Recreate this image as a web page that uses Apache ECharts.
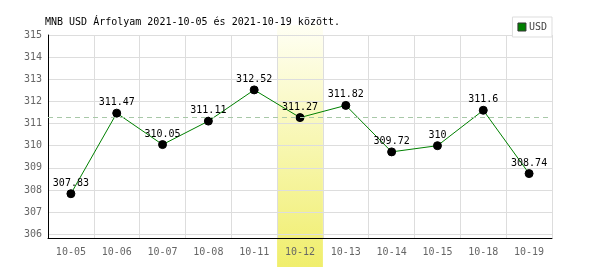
<!DOCTYPE html>
<html><head><meta charset="utf-8">
<script src="https://cdn.jsdelivr.net/npm/echarts@6/dist/echarts.min.js"></script>
<style>html,body{margin:0;padding:0;background:#fff}#c{width:600px;height:270px}</style>
</head><body><div id="c"></div>
<script>
var categories = ['10-05','10-06','10-07','10-08','10-11','10-12','10-13','10-14','10-15','10-18','10-19'];
var usdValues = [307.83, 311.47, 310.05, 311.11, 312.52, 311.27, 311.82, 309.72, 310, 311.6, 308.74];
var highlightCategory = '10-12';
var referenceValue = 311.27;
var yMin = 305.83, yMax = 315, yStep = 1;
var titleText = 'MNB USD Árfolyam 2021-10-05 és 2021-10-19 között.';
var mono = 'DejaVu Sans Mono';

var chart = echarts.init(document.getElementById('c'), null, {renderer: 'canvas'});
chart.setOption({
  animation: false,
  backgroundColor: '#fff',
  title: {text: titleText, left: 40, top: 12, textStyle: {fontFamily: mono, fontSize: 10, fontWeight: 'normal', color: '#000'}},
  legend: {
    data: [{name: 'USD', itemStyle: {color: '#008000', borderColor: '#333', borderWidth: 1}}],
    right: 48, top: 17, itemWidth: 8, itemHeight: 8, itemGap: 4,
    padding: [5, 5, 5, 5], borderColor: '#ddd', borderWidth: 1, backgroundColor: '#fff',
    icon: 'rect', textStyle: {fontFamily: mono, fontSize: 10, color: '#444', padding: [0,0,0,-2]}
  },
  grid: {left: 48, right: 48, top: 35, bottom: 32},
  xAxis: {
    type: 'category', data: categories, boundaryGap: true,
    axisLine: {lineStyle: {color: '#000', width: 1}},
    axisTick: {show: false},
    axisLabel: {fontFamily: mono, fontSize: 10, color: '#666', margin: 9},
    splitLine: {show: true, interval: 0, lineStyle: {color: '#ddd', width: 1}}
  },
  yAxis: {
    type: 'value', min: yMin, max: yMax, splitNumber: 9, minInterval: yStep, maxInterval: yStep,
    axisLine: {show: true, lineStyle: {color: '#000', width: 1}},
    axisTick: {show: false},
    axisLabel: {fontFamily: mono, fontSize: 10, color: '#666', margin: 6, showMinLabel: false,
      formatter: function(v){ return Math.abs(v - Math.round(v)) < 1e-6 ? String(Math.round(v)) : ''; }},
    splitLine: {show: true, lineStyle: {color: '#ddd', width: 1}}
  },
  series: [{
    name: 'USD', type: 'line', data: usdValues, z: 3,
    symbol: 'circle', symbolSize: 8,
    itemStyle: {color: '#000', borderColor: '#000'},
    lineStyle: {color: '#008000', width: 1},
    label: {show: true, position: 'top', distance: 1, fontFamily: mono, fontSize: 10, color: '#000'},
    markLine: {
      silent: true, symbol: 'none', label: {show: false},
      lineStyle: {color: '#a8c8a8', type: [5, 4], width: 1},
      data: [{yAxis: referenceValue}]
    }
  }]
});

function drawBand(){
  var idx = categories.indexOf(highlightCategory);
  var c0 = chart.convertToPixel({xAxisIndex: 0}, categories[0]);
  var c1 = chart.convertToPixel({xAxisIndex: 0}, categories[1]);
  var w = c1 - c0;
  var cx = chart.convertToPixel({xAxisIndex: 0}, categories[idx]);
  var yTop = chart.convertToPixel({yAxisIndex: 0}, yMax) - 10;
  var yBot = chart.getHeight() - 3;
  chart.setOption({graphic: [{
    type: 'rect', z: -1, silent: true,
    shape: {x: cx - w/2, y: yTop, width: w, height: yBot - yTop},
    style: {fill: new echarts.graphic.LinearGradient(0, 0, 0, 1, [
      {offset: 0, color: '#fffff4'}, {offset: 1, color: '#f0ee6c'}])}
  }]});
}
drawBand();
</script></body></html>
